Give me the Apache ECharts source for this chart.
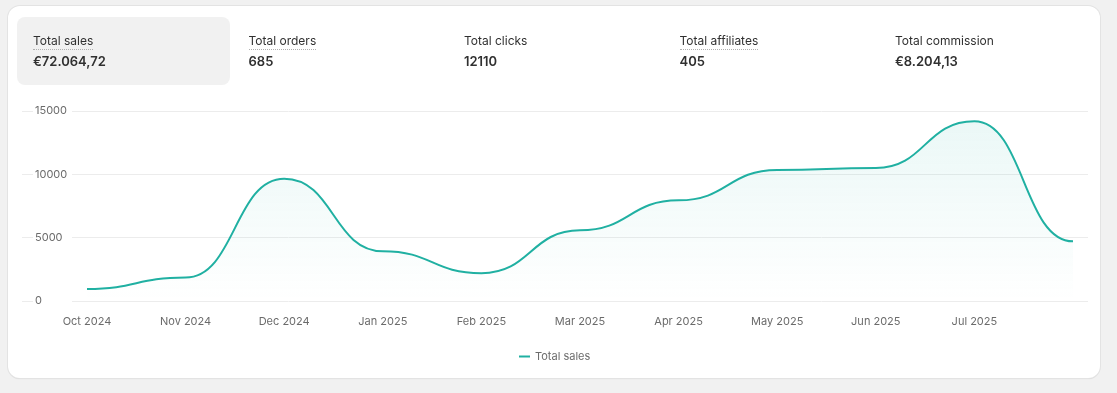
<!DOCTYPE html>
<html>
<head>
<meta charset="utf-8">
<script src="https://cdn.jsdelivr.net/npm/echarts@6/dist/echarts.min.js"></script>
<style>
html,body{margin:0;padding:0;background:#f1f1f1;width:1117px;height:393px;overflow:hidden;font-family:Inter,"Noto Sans",sans-serif;color:#303030;}
.card{position:absolute;left:8px;top:6px;width:1092px;height:372px;background:#fff;border-radius:12px;box-shadow:0 0 0 1px #e3e3e3,0 1px 1px rgba(0,0,0,.14);z-index:0;}
.tab{position:absolute;left:17px;top:17px;width:213px;height:68px;border-radius:8px;background:#f1f1f1;z-index:1;}
#chart{position:absolute;left:0;top:0;width:1117px;height:393px;z-index:2;}
.stat{position:absolute;z-index:3;}
.stat .lbl{position:absolute;top:33px;left:0;white-space:nowrap;font-size:12px;line-height:15px;color:#303030;}
.stat .lbl.u{border-bottom:1px dotted #b0b0b0;padding-bottom:1px;}
.stat .val{position:absolute;top:52px;left:0;white-space:nowrap;font-size:13px;line-height:18px;font-weight:600;color:#303030;}
</style>
</head>
<body>
<div class="card"></div>
<div class="tab"></div>
<div id="chart"></div>
<div id="stats"></div>
<script>
// ---- data ----
const statLabels = ['Total sales', 'Total orders', 'Total clicks', 'Total affiliates', 'Total commission'];
const statValues = ['€72.064,72', '685', '12110', '405', '€8.204,13'];
const statUnderlined = [true, true, false, true, false];
const xLabels = ['Oct 2024', 'Nov 2024', 'Dec 2024', 'Jan 2025', 'Feb 2025', 'Mar 2025', 'Apr 2025', 'May 2025', 'Jun 2025', 'Jul 2025'];
const salesValues = [950, 1850, 9650, 3930, 2200, 5580, 7950, 10340, 10500, 14190, 4710];
const yTicks = [0, 5000, 10000, 15000];
const seriesName = 'Total sales';

// ---- stats header ----
const stats = document.getElementById('stats');
statLabels.forEach((l, i) => {
  const d = document.createElement('div');
  d.className = 'stat';
  d.style.left = (33 + i * 215.5) + 'px';
  d.style.top = '0px';
  const a = document.createElement('div');
  a.className = 'lbl' + (statUnderlined[i] ? ' u' : '');
  a.textContent = l;
  const b = document.createElement('div');
  b.className = 'val';
  b.textContent = statValues[i];
  d.appendChild(a); d.appendChild(b);
  stats.appendChild(d);
});

// ---- chart ----
const chart = echarts.init(document.getElementById('chart'), null, {renderer: 'canvas'});
const lineColor = '#20b0a2';

// smooth "bump" curve with a horizontal tangent at every data point, drawn via the axes' coord()
function renderCurve(params, api) {
  if (params.dataIndex !== 0) return null;
  const pts = salesValues.map((v, i) => api.coord([i, v]));
  const base = api.coord([0, 0])[1];
  let d = 'M' + pts[0][0] + ' ' + pts[0][1];
  for (let i = 1; i < pts.length; i++) {
    const p0 = pts[i - 1], p1 = pts[i];
    const mx = (p0[0] + p1[0]) / 2;
    d += ' C' + mx + ' ' + p0[1] + ' ' + mx + ' ' + p1[1] + ' ' + p1[0] + ' ' + p1[1];
  }
  const last = pts[pts.length - 1];
  const area = d + ' L' + last[0] + ' ' + base + ' L' + pts[0][0] + ' ' + base + ' Z';
  return {
    type: 'group',
    children: [
      {
        type: 'path',
        shape: {pathData: area},
        style: {
          fill: new echarts.graphic.LinearGradient(0, 0, 0, 1, [
            {offset: 0, color: 'rgba(32,176,162,0.09)'},
            {offset: 1, color: 'rgba(32,176,162,0.0)'}
          ]),
          stroke: null
        },
        silent: true
      },
      {
        type: 'path',
        shape: {pathData: d},
        style: {fill: null, stroke: lineColor, lineWidth: 2},
        silent: true
      }
    ]
  };
}

chart.setOption({
  animation: false,
  backgroundColor: 'transparent',
  grid: {left: 22, right: 29, top: 111, bottom: 92},
  legend: {
    left: 514, top: 346,
    icon: 'rect', itemWidth: 11, itemHeight: 2,
    textStyle: {color: '#6b6b6b', fontSize: 11, fontFamily: 'Inter'},
    data: [{name: seriesName, itemStyle: {color: lineColor}}]
  },
  xAxis: {
    type: 'value',
    min: -0.659, max: 10.152,
    axisLine: {show: false},
    axisTick: {show: false},
    splitLine: {show: false},
    axisLabel: {
      customValues: xLabels.map((_, i) => i),
      formatter: v => xLabels[Math.round(v)] || '',
      color: '#6b6b6b', fontSize: 11, fontFamily: 'Inter', margin: 15
    }
  },
  yAxis: {
    type: 'value',
    min: yTicks[0], max: yTicks[yTicks.length - 1], interval: 5000,
    axisLine: {show: false},
    axisTick: {show: false},
    splitLine: {lineStyle: {color: '#ececec', width: 1}},
    axisLabel: {
      inside: true, margin: 11,
      formatter: v => String(v),
      color: '#6b6b6b', fontSize: 11, fontFamily: 'Inter',
      backgroundColor: '#fff', width: 34, padding: [2, 3, 2, 2], align: 'left'
    }
  },
  series: [{
    name: seriesName,
    type: 'custom',
    data: salesValues.map((v, i) => [i, v]),
    encode: {x: 0, y: 1},
    itemStyle: {color: lineColor},
    renderItem: renderCurve
  }]
});
</script>
</body>
</html>
